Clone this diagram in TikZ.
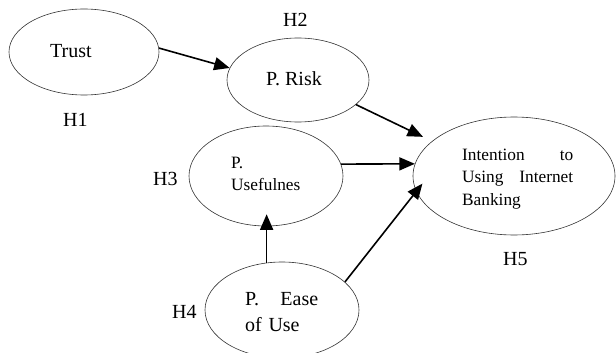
\documentclass[tikz,border=0pt]{standalone}
\usepackage{fontspec}
\setmainfont{Liberation Serif}
\usetikzlibrary{shapes.geometric,arrows.meta}
\begin{document}
\begin{tikzpicture}[x=1pt,y=-1pt,
  oval/.style={ellipse,draw=black!80,line width=0.6pt,inner sep=0pt},
  big/.style={font=\fontsize{20}{26.5}\selectfont,inner sep=0pt},
  small/.style={font=\fontsize{17.3}{22.5}\selectfont,inner sep=0pt},
  link/.style={line width=1.6pt,-{Triangle[length=15.5pt,width=13pt]}}]
\useasboundingbox (0,0) rectangle (616,353);
% ellipses
\node[oval,minimum width=150pt,minimum height=86pt] (trust) at (84,52) {};
\node[oval,minimum width=142pt,minimum height=84pt] (risk) at (298,80) {};
\node[oval,minimum width=154pt,minimum height=100pt] (use) at (266,176) {};
\node[oval,minimum width=154pt,minimum height=96pt] (ease) at (282,310) {};
\node[oval,minimum width=202pt,minimum height=118pt] (intent) at (514,176) {};
% texts
\node[big,anchor=base west] (ttrust) at (50,58) {Trust};
\node[big,anchor=base west] (trisk) at (266,85) {P. Risk};
\node[small,anchor=north west,text width=75pt,align=left] (tuse) at (231,156.5) {P.\\Usefulnes};
\node[big,anchor=north west,text width=73pt,align=left] (tease) at (245,291.8) {P.\hfill Ease\\of Use};
\node[small,anchor=north west,text width=111pt,align=left] (tint) at (462,148.5) {Intention\hfill to\\Using\hfill Internet\\Banking};
% hypothesis labels
\node[big,anchor=base west] (h1) at (63,126) {H1};
\node[big,anchor=base west] (h2) at (283,27) {H2};
\node[big,anchor=base west] (h3) at (153,185) {H3};
\node[big,anchor=base west] (h4) at (172,318) {H4};
\node[big,anchor=base west] (h5) at (503,265) {H5};
% connectors
\draw[link] (trust.3) -- (risk.170);
\draw[link,shorten >=10pt] (risk.-23) -- (intent.157);
\draw[link] (use.9) -- (intent.173);
\draw[link,shorten >=-12pt] (ease.108) -- (ease.108 |- use.south);
\draw[link,shorten >=-10pt] (ease.24) -- (intent.189);
\end{tikzpicture}
\end{document}
